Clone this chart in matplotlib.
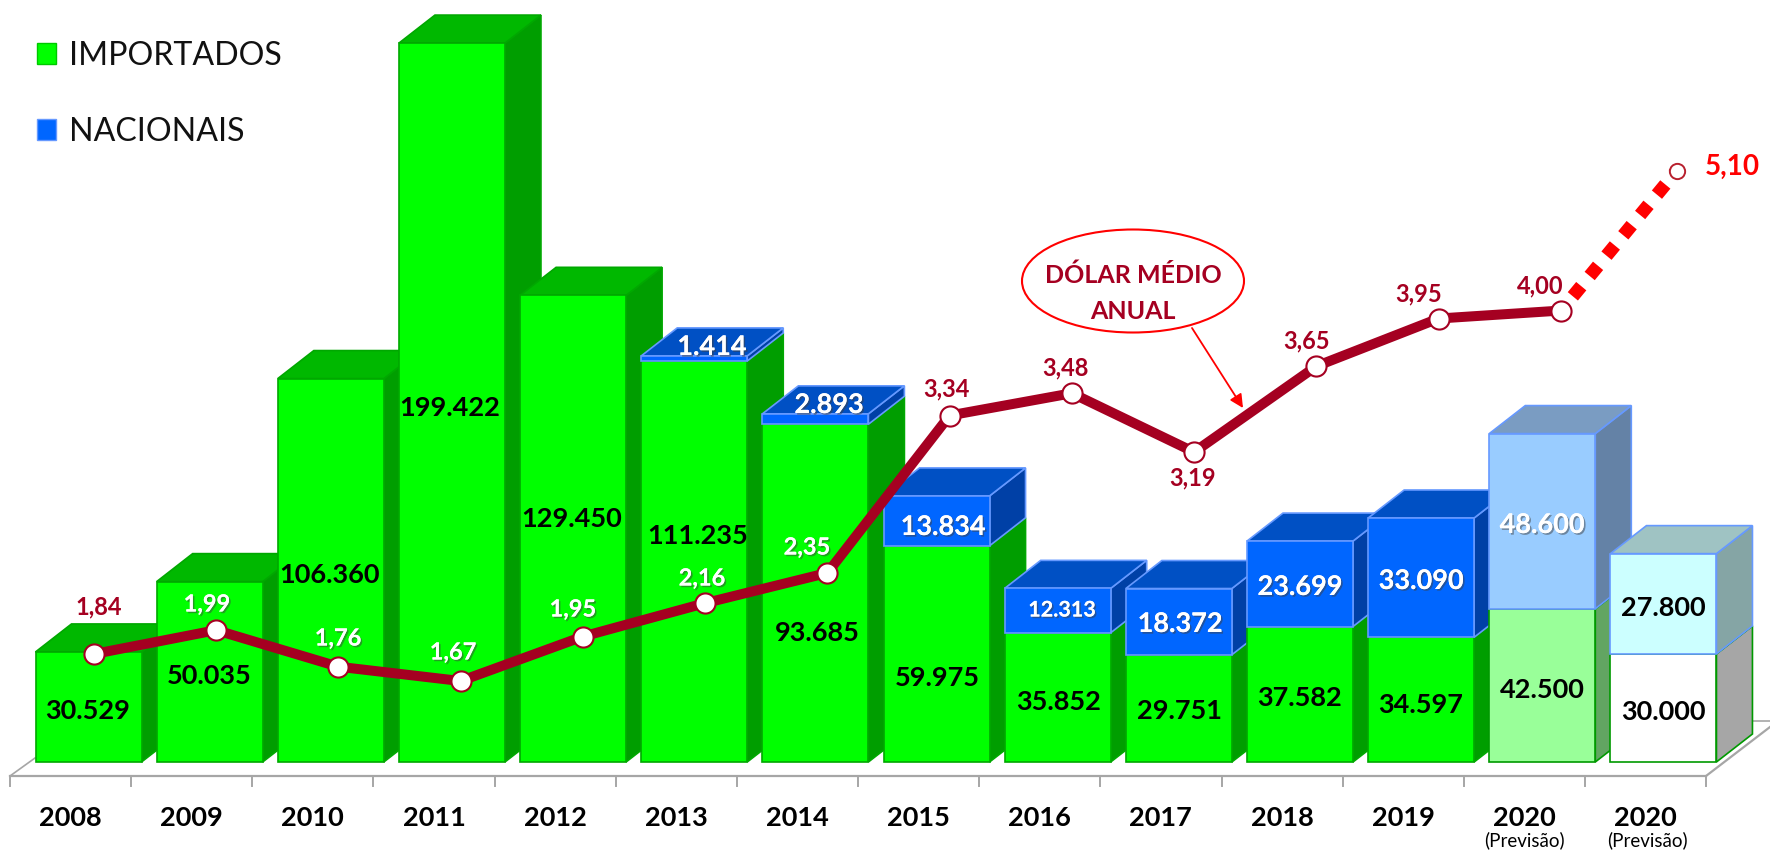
import matplotlib
matplotlib.use('Agg')
import matplotlib.pyplot as plt
import matplotlib.patheffects as pe
from matplotlib.patches import Ellipse, Patch

plt.rcParams['font.family'] = ['Lato', 'DejaVu Sans']

# Data
anos = ['2008', '2009', '2010', '2011', '2012', '2013', '2014', '2015', '2016', '2017', '2018', '2019', '2020', '2020']
importados = [30529, 50035, 106360, 199422, 129450, 111235, 93685, 59975, 35852, 29751, 37582, 34597, 42500, 30000]
nacionais = [0, 0, 0, 0, 0, 1414, 2893, 13834, 12313, 18372, 23699, 33090, 48600, 27800]
imp_labels = ['30.529', '50.035', '106.360', '199.422', '129.450', '111.235', '93.685', '59.975', '35.852', '29.751', '37.582', '34.597', '42.500', '30.000']
nac_labels = ['', '', '', '', '', '1.414', '2.893', '13.834', '12.313', '18.372', '23.699', '33.090', '48.600', '27.800']
# the 2017 point sits lower in the picture than its 3,19 label says
dolar = [1.84, 1.99, 1.76, 1.67, 1.95, 2.16, 2.35, 3.34, 3.48, 3.11, 3.65, 3.95, 4.00]
dolar_labels = ['1,84', '1,99', '1,76', '1,67', '1,95', '2,16', '2,35', '3,34', '3,48', '3,19', '3,65', '3,95', '4,00']
previsao_pos = [12.155, 13.11]
previsao = [4.00, 4.88]

# Label positions in pixels
imp_xy = [(88, 711), (209, 676), (330, 575), (450, 408), (572, 519), (698, 536), (817, 633),
          (937, 678), (1059, 702), (1180, 711), (1300, 698), (1421, 705), (1542, 690), (1663, 712)]
nac_xy = [None] * 5 + [(712, 347), (829, 405), (943, 527), (1062, 610), (1180, 624),
                       (1300, 587), (1421, 581), (1542, 525), (1663, 608)]
dolar_xy = [(99, 607), (207, 604), (338, 638), (453, 652), (573, 609), (702, 578), (807, 547),
            (946, 389), (1065, 368), (1193, 478), (1307, 341), (1419, 294), (1540, 286)]
dolar_white = [False, True, True, True, True, True, True, False, False, False, False, False, False]

# Scales: 121.15 px per category, 0.003605 px per unit, baseline at y=762
W, H = 1770, 850
px_x, px_y = 121.15, 0.003605
base_y, first_x = 762, 88.5
dx, dy = 36 / px_x, 28 / px_y
bar_w = 106 / px_x

fig = plt.figure(figsize=(W / 100, H / 100), dpi=100, facecolor='white')

# floor and x axis, in pixels
bg = fig.add_axes([0, 0, 1, 1])
bg.set_xlim(0, W)
bg.set_ylim(H, 0)
bg.axis('off')
grey = '#A6A6A6'
bg.plot([10, 1706], [776, 776], color=grey, lw=1.6)
bg.plot([10, 35], [776, 758], color=grey, lw=1.2)
bg.plot([1706, 1770], [776, 727], color=grey, lw=1.6)
bg.plot([1753, 1770], [721, 721], color=grey, lw=1.2)
for i in range(15):
    bg.plot([10 + px_x * i] * 2, [776, 786], color=grey, lw=1.4)

# bars
ax = fig.add_axes([0, 0, 1, 1])
ax.set_xlim(-first_x / px_x, (W - first_x) / px_x)
ax.set_ylim((base_y - H) / px_y, base_y / px_y)
ax.axis('off')


def box(x, y0, h, front, top, side, edge, lw=1.2):
    x0, x1 = x - bar_w / 2, x + bar_w / 2
    y1 = y0 + h
    ax.fill([x1, x1 + dx, x1 + dx, x1], [y0, y0 + dy, y1 + dy, y1], fc=side, ec=edge, lw=lw)
    ax.fill([x0, x1, x1 + dx, x0 + dx], [y1, y1, y1 + dy, y1 + dy], fc=top, ec=edge, lw=lw)
    ax.bar(x, h, bottom=y0, width=bar_w, color=front, edgecolor=edge, linewidth=lw)


green = ('#00FF00', '#00B800', '#009E00', '#00A800')
blue = ('#0066FF', '#0050C4', '#0040A6', '#6699FF')
for i, (imp, nac) in enumerate(zip(importados, nacionais)):
    cg, cb = green, blue
    if i == 12:
        cg = ('#99FF99', '#66AA66', '#62A562', '#009900')
        cb = ('#99CCFF', '#7A9CC2', '#6482A6', '#6699FF')
    if i == 13:
        cg = ('#FFFFFF', '#A6A6A6', '#A6A6A6', '#009900')
        cb = ('#CCFFFF', '#9FC3C3', '#85A5A5', '#6699FF')
    box(i, 0, imp, *cg)
    if nac:
        box(i, imp, nac, *cb)

# dollar line
ax2 = ax.twinx()
ax2.set_ylim(1.84 - (H - 654) / 159, 1.84 + 654 / 159)
ax2.axis('off')
vinho = '#A50021'
ax2.plot(previsao_pos, previsao, color='#FF0000', lw=9.5, ls=(0.6, (1, 1)))
ax2.plot(previsao_pos[-1], previsao[-1], 'o', ms=11, mfc='white', mec='#B8202E', mew=1.4)
ax2.plot([i * 1.009 + 0.045 for i in range(len(dolar))], dolar, color=vinho, lw=7.2, marker='o',
         ms=14.5, mfc='white', mec=vinho, mew=1.5, solid_joinstyle='miter')

# texts, in pixels
ov = fig.add_axes([0, 0, 1, 1])
ov.set_xlim(0, W)
ov.set_ylim(H, 0)
ov.axis('off')
shadow = [pe.withSimplePatchShadow(offset=(1.2, -1.2), shadow_rgbFace='#404040', alpha=0.5), pe.Normal()]
center = dict(ha='center', va='center')

for txt, (x, y) in zip(imp_labels, imp_xy):
    ov.text(x, y, txt, fontsize=19.5, fontweight='bold', color='black', **center)
for i, (txt, xy) in enumerate(zip(nac_labels, nac_xy)):
    if xy is None:
        continue
    dark = i == 13
    size = 15.5 if i == 8 else 19.5
    t = ov.text(xy[0], xy[1], txt, fontsize=size, fontweight='bold', color='black' if dark else 'white', **center)
    if not dark:
        t.set_path_effects(shadow)
for txt, (x, y), white in zip(dolar_labels, dolar_xy, dolar_white):
    t = ov.text(x, y, txt, fontsize=17, fontweight='bold', color='white' if white else vinho, **center)
    if white:
        t.set_path_effects(shadow)
ov.text(1732, 167, '5,10', fontsize=20, fontweight='bold', color='#FF0000', **center)

for i, ano in enumerate(anos):
    ov.text(70.5 + px_x * i, 818, ano, fontsize=19.5, fontweight='bold', color='black', **center)
ov.text(1524, 840, '(Previsão)', fontsize=13.5, color='black', **center)
ov.text(1647, 840, '(Previsão)', fontsize=13.5, color='black', **center)

# callout
ov.add_patch(Ellipse((1133, 281), 222, 103, fc='white', ec='#FF0000', lw=1.5))
ov.text(1133, 293, 'DÓLAR MÉDIO\nANUAL', fontsize=18, fontweight='bold', color=vinho, linespacing=1.7, **center)
ov.annotate('', xy=(1243, 408), xytext=(1192, 328),
            arrowprops=dict(arrowstyle='-|>', color='#FF0000', lw=1.3, mutation_scale=20, shrinkA=0, shrinkB=0))

ov.legend(handles=[Patch(fc='#00FF00', ec='#00C800', label='IMPORTADOS'),
                   Patch(fc='#0066FF', ec='#6699FF', label='NACIONAIS')],
          loc='upper left', bbox_to_anchor=(37 / W, 1 - 41 / H), borderaxespad=0, borderpad=0,
          frameon=False, fontsize=23.1, handlelength=0.6, handleheight=0.62,
          handletextpad=0.4, labelspacing=1.42, labelcolor='#111111')

fig.savefig('out.png', dpi=100)
